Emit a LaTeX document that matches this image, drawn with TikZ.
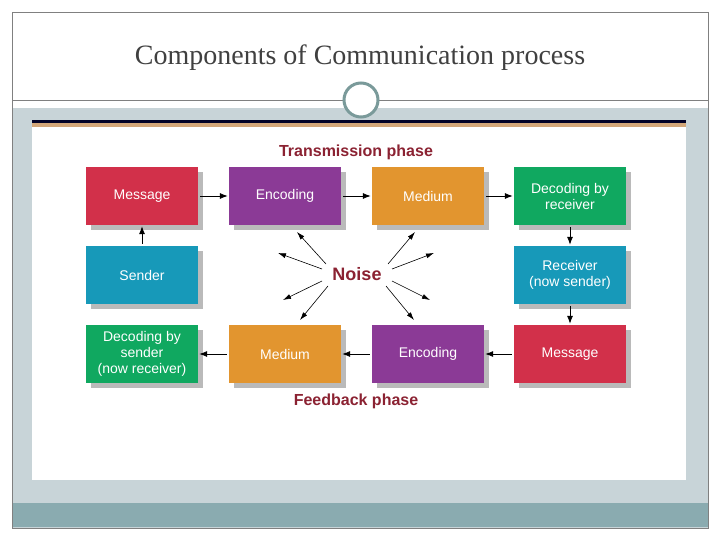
\documentclass[tikz,border=0pt]{standalone}
\usepackage{fontspec}
\setmainfont{Liberation Sans}
\newfontfamily\titlefont{Liberation Serif}
\usetikzlibrary{arrows.meta,positioning,shadows}
\definecolor{msgred}{HTML}{D2304A}
\definecolor{encpurple}{HTML}{8B3A96}
\definecolor{medorange}{HTML}{E2952F}
\definecolor{decgreen}{HTML}{10A860}
\definecolor{sendteal}{HTML}{1799B9}
\definecolor{phasered}{HTML}{8B2232}
\definecolor{framegray}{HTML}{C8D4D8}
\definecolor{bargray}{HTML}{8AABB0}
\definecolor{ringteal}{HTML}{7A9A9A}
\tikzset{
  box/.style={minimum width=112pt, minimum height=58pt, align=center, text=white,
    font=\fontsize{14}{16}\selectfont,
    drop shadow={shadow xshift=5pt, shadow yshift=-5pt, fill=black!45, opacity=.6}},
  flow/.style={-{Latex[length=8pt,width=6pt]}, thick, shorten <=2pt, shorten >=1pt},
  phase/.style={text=phasered, font=\bfseries\fontsize{16}{18}\selectfont}
}
\begin{document}
\begin{tikzpicture}[x=1pt,y=-1pt]
    \useasboundingbox (0,0) rectangle (720,540);
    % frame
    \fill[framegray] (12,108) rectangle (708,528);
    \fill[bargray] (12,503) rectangle (708,527);
    \draw[gray] (12,12) rectangle (708,528);
    \fill[white] (13,13) rectangle (707,100);
    \draw[gray] (12,100) -- (708,100);
    \node[font=\titlefont\fontsize{28}{32}\selectfont, text=black!75] (title) at (360,58) {Components of Communication process};
    \draw[ringteal, line width=3pt, fill=white] (361,100) circle (17);
    % picture area
    \fill[white] (32,120) rectangle (686,480);
    \fill[black!85!blue] (32,120) rectangle (686,123);
    \fill[brown!70] (32,123) rectangle (686,127);
    
    % nodes
    \node[box, fill=msgred] (msg1) at (142,196) {Message};
    \node[box, fill=encpurple] (enc1) at (285,196) {Encoding};
    \node[box, fill=medorange] (med1) at (428,196) {Medium};
    \node[box, fill=decgreen] (dec1) at (570,196) {Decoding by\\receiver};
    \node[box, fill=sendteal] (send) at (142,275) {Sender};
    \node[box, fill=sendteal] (recv) at (570,275) {Receiver\\(now sender)};
    \node[box, fill=decgreen] (dec2) at (142,354) {Decoding by\\sender\\(now receiver)};
    \node[box, fill=medorange] (med2) at (285,354) {Medium};
    \node[box, fill=encpurple] (enc2) at (428,354) {Encoding};
    \node[box, fill=msgred] (msg2) at (570,354) {Message};
    \node[phase] (trans) at (356,152) {Transmission phase};
    \node[phase] (feed) at (356,401) {Feedback phase};
    \node[phase, font=\bfseries\fontsize{18}{20}\selectfont] (noise) at (357,274) {Noise};
    
    % edges
    \draw[flow] (msg1) -- (enc1);
    \draw[flow] (enc1) -- (med1);
    \draw[flow] (med1) -- (dec1);
    \draw[flow] (dec1) -- (recv);
    \draw[flow] (recv) -- (msg2);
    \draw[flow] (msg2) -- (enc2);
    \draw[flow] (enc2) -- (med2);
    \draw[flow] (med2) -- (dec2);
    \draw[flow] (send) -- (msg1);
    
    % noise arrows
    \foreach \tx/\ty/\sx/\sy in {297/232/326/264, 278/253/322/269, 283/300/322/281, 300/320/328/286,
                                 415/232/388/264, 434/253/392/269, 430/300/392/281, 414/320/386/286}
      \draw[-{Latex[length=8pt,width=5pt]}, semithick] (\sx,\sy) -- (\tx,\ty);
\end{tikzpicture}
\end{document}
